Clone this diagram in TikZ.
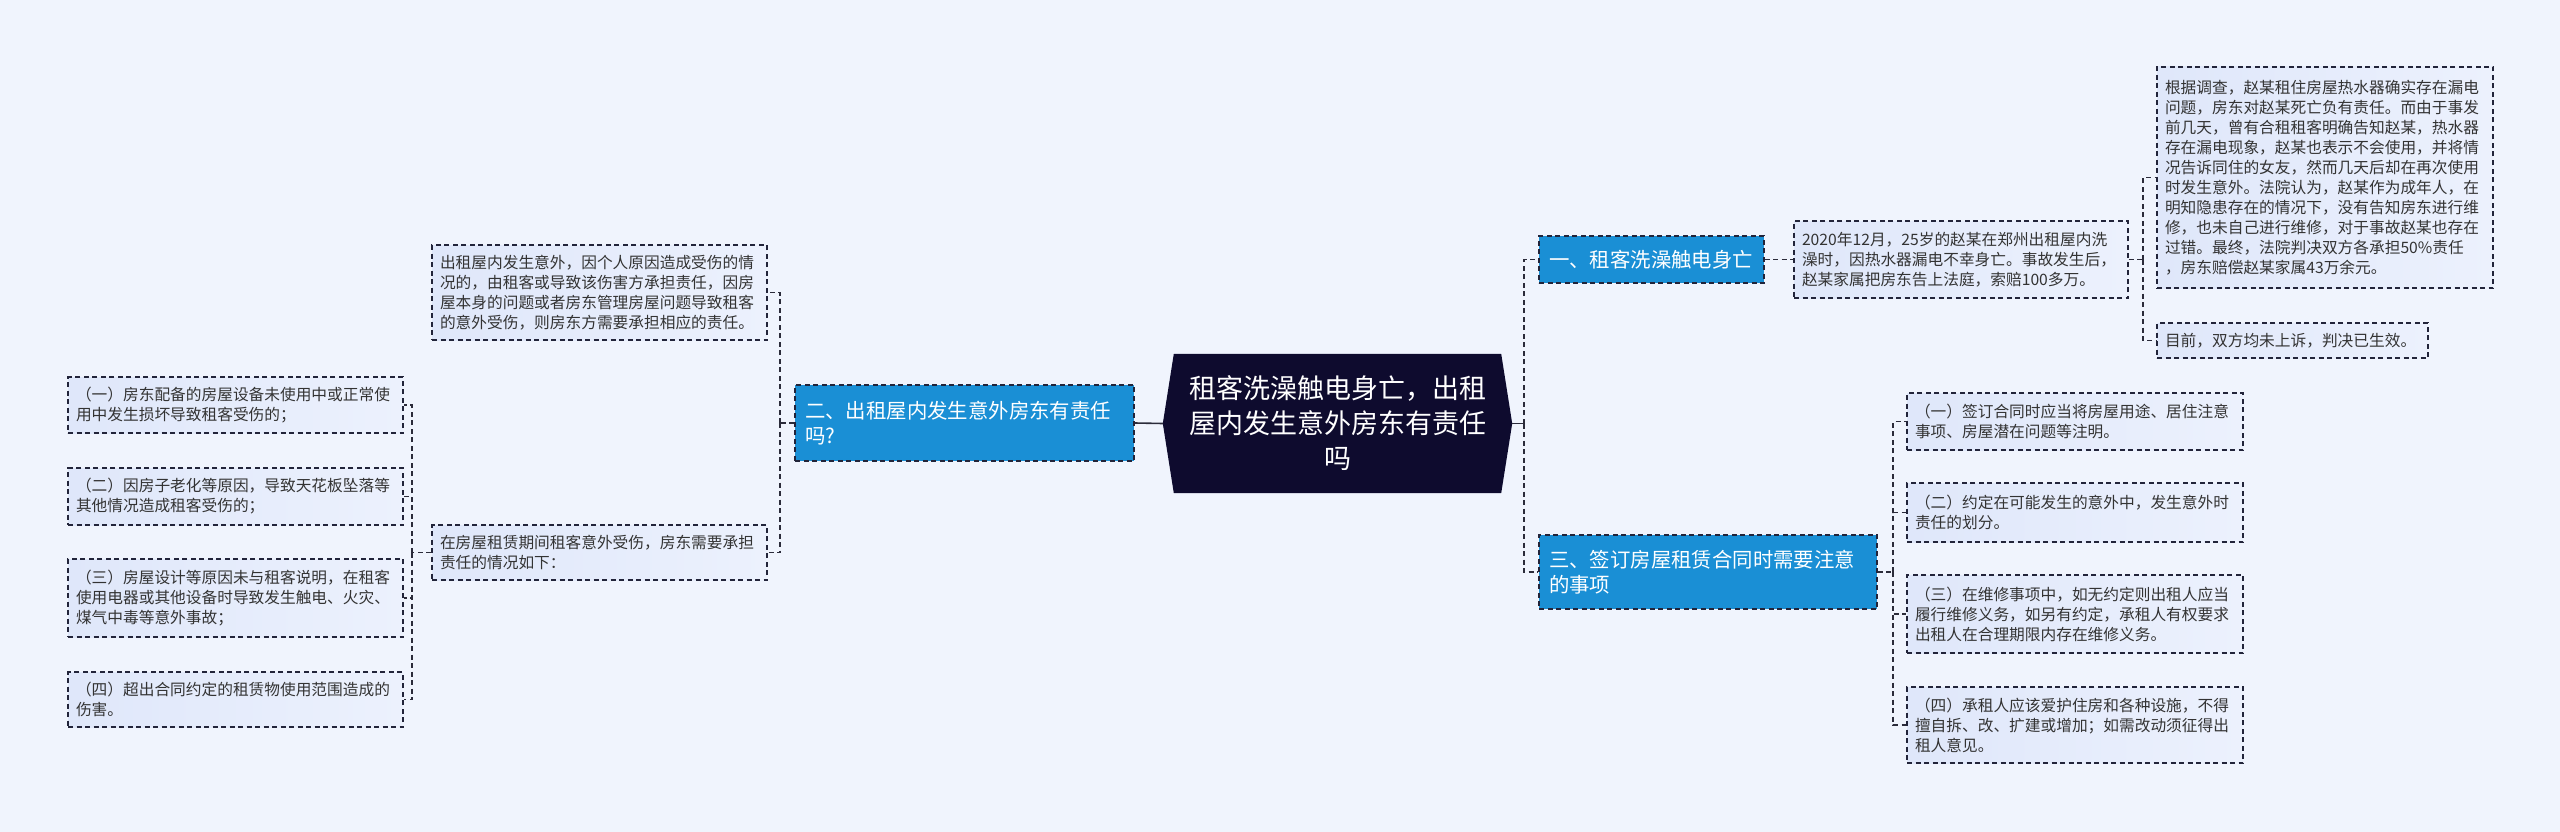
\documentclass[tikz,border=0pt]{standalone}
\usepackage{fontspec}
\setmainfont{Noto Sans CJK SC}
\usetikzlibrary{backgrounds}
\definecolor{bgc}{HTML}{F0F4FD}
\definecolor{boxl}{HTML}{DFE7FA}
\definecolor{boxr}{HTML}{ECF1FD}
\definecolor{textc}{HTML}{333333}
\definecolor{linec}{HTML}{2B2B3A}
\definecolor{borderc}{HTML}{22243A}
\definecolor{blueone}{HTML}{1A8FD5}
\definecolor{navy}{HTML}{0E0B2E}
\begin{document}
\begin{tikzpicture}[x=1pt,y=-1pt,
  conn/.style={draw=linec, line width=1.3pt, dash pattern=on 5pt off 3.5pt},
  solidconn/.style={draw=linec, line width=1.6pt},
  tbox/.style={draw=borderc, line width=1.3pt, dash pattern=on 5pt off 3.5pt,
    left color=boxl, right color=boxr, text=textc,
    font=\fontsize{15.7}{20}\selectfont, align=left,
    inner xsep=8pt, inner ysep=0pt, anchor=center},
  lvone/.style={draw=borderc, line width=1.3pt, dash pattern=on 5pt off 3.5pt,
    fill=blueone, text=white, font=\fontsize{20.4}{25}\selectfont, align=left,
    inner xsep=10pt, inner ysep=0pt, anchor=center},
  ctext/.style={text=white, font=\fontsize{27}{35}\selectfont, align=center,
    inner sep=0pt, minimum width=327pt, minimum height=139pt, anchor=center}
]
\useasboundingbox (0,0) rectangle (2560,832);

% central topic
\node[ctext] (c) at (1337.5,423.5) {租客洗澡触电身亡，出租\\屋内发生意外房东有责任\\吗};
\begin{scope}[on background layer]
  \fill[bgc] (0,0) rectangle (2560,832);
  \fill[navy] (c.north west) -- (c.north east) -- ([xshift=11pt]c.east) -- (c.south east)
    -- (c.south west) -- ([xshift=-11pt]c.west) -- cycle;
\end{scope}

% level one
\node[lvone, text width=319pt, minimum height=76pt] (n2) at (964.5,423) {二、出租屋内发生意外房东有责任\\吗?};
\node[lvone, text width=205pt, minimum height=47pt] (n1) at (1651.5,259.5) {一、租客洗澡触电身亡};
\node[lvone, text width=318pt, minimum height=74pt] (n3) at (1708,572) {三、签订房屋租赁合同时需要注意\\的事项};

% left side
\node[tbox, text width=319pt, minimum height=95pt] (l2a) at (599.5,292.5) {出租屋内发生意外，因个人原因造成受伤的情\\况的，由租客或导致该伤害方承担责任，因房\\屋本身的问题或者房东管理房屋问题导致租客\\的意外受伤，则房东方需要承担相应的责任。};
\node[tbox, text width=319pt, minimum height=55pt] (l2b) at (599.5,552.5) {在房屋租赁期间租客意外受伤，房东需要承担\\责任的情况如下：};

\node[tbox, text width=319pt, minimum height=56pt] (l3a) at (235.5,405) {（一）房东配备的房屋设备未使用中或正常使\\用中发生损坏导致租客受伤的；};
\node[tbox, text width=319pt, minimum height=57pt] (l3b) at (235.5,496.5) {（二）因房子老化等原因，导致天花板坠落等\\其他情况造成租客受伤的；};
\node[tbox, text width=319pt, minimum height=78pt] (l3c) at (235.5,598) {（三）房屋设计等原因未与租客说明，在租客\\使用电器或其他设备时导致发生触电、火灾、\\煤气中毒等意外事故；};
\node[tbox, text width=319pt, minimum height=55pt] (l3d) at (235.5,699.5) {（四）超出合同约定的租赁物使用范围造成的\\伤害。};

% right side, branch one
\node[tbox, text width=318pt, minimum height=77pt] (r2a) at (1961,259.5) {2020年12月，25岁的赵某在郑州出租屋内洗\\澡时，因热水器漏电不幸身亡。事故发生后，\\赵某家属把房东告上法庭，索赔100多万。};
\node[tbox, text width=320pt, minimum height=221pt] (r3a) at (2325,177.5) {根据调查，赵某租住房屋热水器确实存在漏电\\问题，房东对赵某死亡负有责任。而由于事发\\前几天，曾有合租租客明确告知赵某，热水器\\存在漏电现象，赵某也表示不会使用，并将情\\况告诉同住的女友，然而几天后却在再次使用\\时发生意外。法院认为，赵某作为成年人，在\\明知隐患存在的情况下，没有告知房东进行维\\修，也未自己进行维修，对于事故赵某也存在\\过错。最终，法院判决双方各承担50\%责任\\，房东赔偿赵某家属43万余元。};
\node[tbox, text width=255pt, minimum height=35pt] (r3b) at (2292.5,340.5) {目前，双方均未上诉，判决已生效。};

% right side, branch three
\node[tbox, text width=320pt, minimum height=57pt] (s1) at (2075,421.5) {（一）签订合同时应当将房屋用途、居住注意\\事项、房屋潜在问题等注明。};
\node[tbox, text width=320pt, minimum height=59pt] (s2) at (2075,512.5) {（二）约定在可能发生的意外中，发生意外时\\责任的划分。};
\node[tbox, text width=320pt, minimum height=78pt] (s3) at (2075,614) {（三）在维修事项中，如无约定则出租人应当\\履行维修义务，如另有约定，承租人有权要求\\出租人在合理期限内存在维修义务。};
\node[tbox, text width=320pt, minimum height=76pt] (s4) at (2075,725) {（四）承租人应该爱护住房和各种设施，不得\\擅自拆、改、扩建或增加；如需改动须征得出\\租人意见。};

% connectors, left
\coordinate (jl) at (780,423);
\coordinate (jl2) at (412,552.5);
\draw[solidconn] ([xshift=-11pt]c.west) -- (n2.east);
\draw[conn] (n2.west) -- (jl);
\draw[conn] (jl) |- (l2a.east);
\draw[conn] (jl) |- (l2b.east);
\draw[conn] (l2b.west) -- (jl2);
\draw[conn] (jl2) |- (l3a.east);
\draw[conn] (jl2) |- (l3b.east);
\draw[conn] (jl2) |- (l3c.east);
\draw[conn] (jl2) |- (l3d.east);

% connectors, right
\coordinate (jr) at (1524,423.5);
\coordinate (jr2) at (2143,259.5);
\coordinate (jr3) at (1893,572);
\draw[solidconn] ([xshift=11pt]c.east) -- (jr);
\draw[conn] (jr) |- (n1.west);
\draw[conn] (jr) |- (n3.west);
\draw[conn] (n1.east) -- (r2a.west);
\draw[conn] (r2a.east) -- (jr2);
\draw[conn] (jr2) |- (r3a.west);
\draw[conn] (jr2) |- (r3b.west);
\draw[conn] (n3.east) -- (jr3);
\draw[conn] (jr3) |- (s1.west);
\draw[conn] (jr3) |- (s2.west);
\draw[conn] (jr3) |- (s3.west);
\draw[conn] (jr3) |- (s4.west);
\end{tikzpicture}
\end{document}
